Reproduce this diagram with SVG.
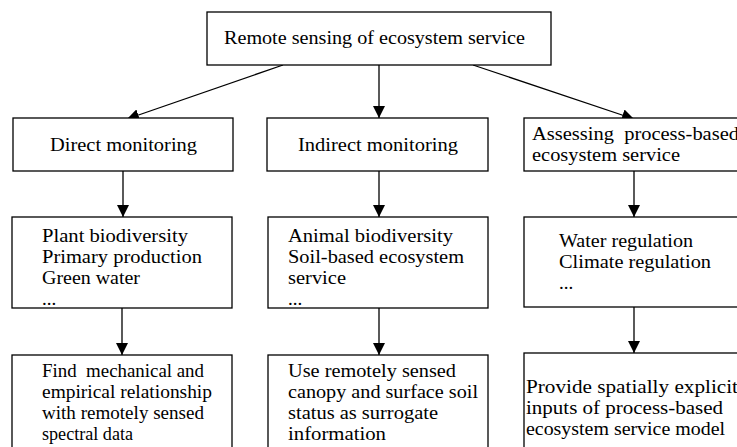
<svg xmlns="http://www.w3.org/2000/svg" width="737" height="447" viewBox="0 0 737 447">
<style>
.box{fill:#fff;stroke:#000;stroke-width:1.3}
.t{font-family:"Liberation Serif","Times New Roman",serif;font-size:19px;fill:#000}
.c{stroke:#000;stroke-width:1.3;fill:none}
</style>
<defs>
<marker id="ah" markerUnits="userSpaceOnUse" markerWidth="12" markerHeight="12" refX="12" refY="6" orient="auto" viewBox="0 0 12 12">
<path d="M0,0 L12,6 L0,12 z" fill="#000"/>
</marker>
</defs>
<rect width="737" height="447" fill="#fff"/>
<g id="connectors">
<line class="c" x1="283" y1="65" x2="127" y2="119" marker-end="url(#ah)"/>
<line class="c" x1="379" y1="65" x2="379" y2="118" marker-end="url(#ah)"/>
<line class="c" x1="473" y1="65" x2="634" y2="119" marker-end="url(#ah)"/>
<line class="c" x1="123" y1="171" x2="123" y2="217" marker-end="url(#ah)"/>
<line class="c" x1="379" y1="171" x2="379" y2="217" marker-end="url(#ah)"/>
<line class="c" x1="634" y1="171" x2="634" y2="217" marker-end="url(#ah)"/>
<line class="c" x1="122" y1="308" x2="122" y2="355" marker-end="url(#ah)"/>
<line class="c" x1="379" y1="308" x2="379" y2="355" marker-end="url(#ah)"/>
<line class="c" x1="634" y1="307" x2="634" y2="353" marker-end="url(#ah)"/>
</g>
<g id="root">
<rect class="box" x="207" y="12" width="344" height="53"/>
<text class="t" x="224" y="44" textLength="301" lengthAdjust="spacingAndGlyphs">Remote sensing of ecosystem service</text>
</g>
<g id="direct">
<rect class="box" x="13" y="118" width="220" height="53"/>
<text class="t" x="50" y="151" textLength="147" lengthAdjust="spacingAndGlyphs">Direct monitoring</text>
</g>
<g id="indirect">
<rect class="box" x="267" y="118" width="221" height="53"/>
<text class="t" x="298" y="151" textLength="160" lengthAdjust="spacingAndGlyphs">Indirect monitoring</text>
</g>
<g id="assessing">
<rect class="box" x="524" y="118" width="240" height="53"/>
<text class="t" x="532" y="140" textLength="207" lengthAdjust="spacingAndGlyphs" xml:space="preserve">Assessing  process-based</text>
<text class="t" x="532" y="161" textLength="148" lengthAdjust="spacingAndGlyphs">ecosystem service</text>
</g>
<g id="plant">
<rect class="box" x="12" y="217" width="220" height="91"/>
<text class="t" x="42" y="242" textLength="146" lengthAdjust="spacingAndGlyphs">Plant biodiversity</text>
<text class="t" x="42" y="263" textLength="160" lengthAdjust="spacingAndGlyphs">Primary production</text>
<text class="t" x="42" y="284" textLength="98" lengthAdjust="spacingAndGlyphs">Green water</text>
<text class="t" x="42" y="305">...</text>
</g>
<g id="animal">
<rect class="box" x="268" y="217" width="220" height="91"/>
<text class="t" x="288" y="242" textLength="165" lengthAdjust="spacingAndGlyphs">Animal biodiversity</text>
<text class="t" x="288" y="263" textLength="176" lengthAdjust="spacingAndGlyphs">Soil-based ecosystem</text>
<text class="t" x="288" y="284" textLength="58" lengthAdjust="spacingAndGlyphs">service</text>
<text class="t" x="288" y="305">...</text>
</g>
<g id="water">
<rect class="box" x="524" y="217" width="240" height="90"/>
<text class="t" x="559" y="247" textLength="134" lengthAdjust="spacingAndGlyphs">Water regulation</text>
<text class="t" x="559" y="268" textLength="152" lengthAdjust="spacingAndGlyphs">Climate regulation</text>
<text class="t" x="559" y="289">...</text>
</g>
<g id="find">
<rect class="box" x="12" y="355" width="220" height="110"/>
<text class="t" x="42" y="377" textLength="162" lengthAdjust="spacingAndGlyphs" xml:space="preserve">Find  mechanical and</text>
<text class="t" x="42" y="398" textLength="170" lengthAdjust="spacingAndGlyphs">empirical relationship</text>
<text class="t" x="42" y="419" textLength="162" lengthAdjust="spacingAndGlyphs">with remotely sensed</text>
<text class="t" x="42" y="440" textLength="91" lengthAdjust="spacingAndGlyphs">spectral data</text>
</g>
<g id="use">
<rect class="box" x="268" y="355" width="220" height="110"/>
<text class="t" x="288" y="377" textLength="168" lengthAdjust="spacingAndGlyphs">Use remotely sensed</text>
<text class="t" x="288" y="398" textLength="190" lengthAdjust="spacingAndGlyphs">canopy and surface soil</text>
<text class="t" x="288" y="419" textLength="150" lengthAdjust="spacingAndGlyphs">status as surrogate</text>
<text class="t" x="288" y="440" textLength="98" lengthAdjust="spacingAndGlyphs">information</text>
</g>
<g id="provide">
<rect class="box" x="524" y="353" width="240" height="110"/>
<text class="t" x="526" y="393" textLength="212" lengthAdjust="spacingAndGlyphs">Provide spatially explicit</text>
<text class="t" x="526" y="414" textLength="197" lengthAdjust="spacingAndGlyphs">inputs of process-based</text>
<text class="t" x="526" y="435" textLength="199" lengthAdjust="spacingAndGlyphs">ecosystem service model</text>
</g>
</svg>
